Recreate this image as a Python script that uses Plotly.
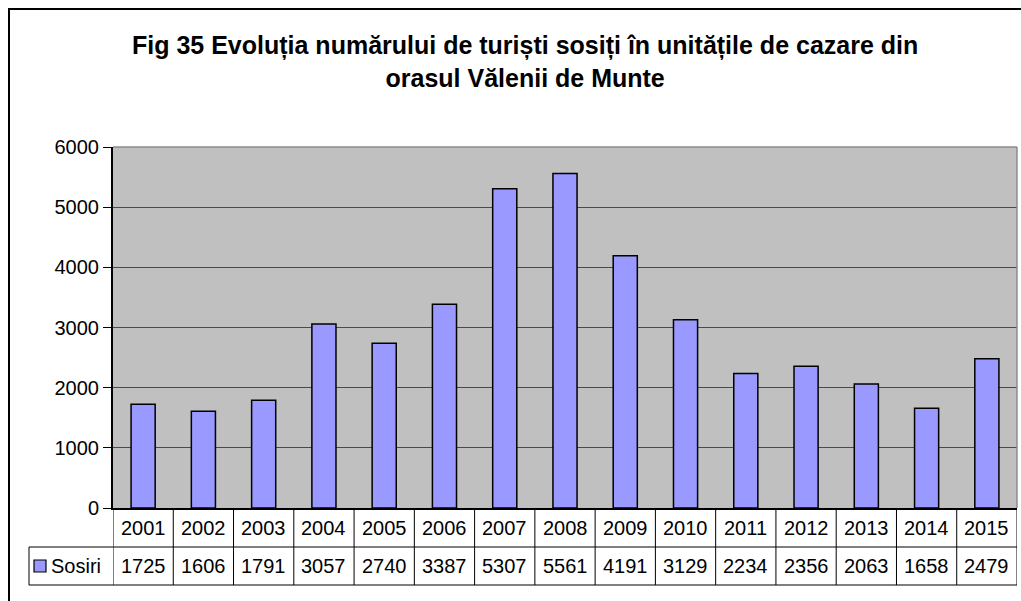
import plotly.graph_objects as go

years = ["2001", "2002", "2003", "2004", "2005", "2006", "2007", "2008",
         "2009", "2010", "2011", "2012", "2013", "2014", "2015"]
sosiri = [1725, 1606, 1791, 3057, 2740, 3387, 5307, 5561,
          4191, 3129, 2234, 2356, 2063, 1658, 2479]
series_name = "Sosiri"
title_lines = ["Fig 35 Evoluția numărului de turiști sosiți în unitățile de cazare din",
               "orasul Vălenii de Munte"]

W, H = 1021, 601
L, R, T, B = 113, 1017, 147, 508  # plot area in pixels
pw, ph = R - L, B - T

def px_x(x):
    return (x - L) / pw

def px_y(y):
    return (B - y) / ph

FONT = "Liberation Sans, Arial, sans-serif"
FS = 20

fig = go.Figure()
fig.add_trace(go.Bar(
    x=years, y=sosiri, name=series_name, width=0.4,
    marker=dict(color="#9999FF", line=dict(color="#000000", width=1.5)),
    showlegend=False,
))

shapes = []
# outer chart border
shapes.append(dict(type="rect", xref="paper", yref="paper",
                   x0=px_x(9), x1=px_x(1030), y0=px_y(610), y1=px_y(9),
                   line=dict(color="#000000", width=2), layer="below"))
# plot area top and right borders (grey)
shapes.append(dict(type="line", xref="paper", yref="paper", x0=0, x1=1, y0=1, y1=1,
                   line=dict(color="#8c8c8c", width=1.5)))
shapes.append(dict(type="line", xref="paper", yref="paper", x0=1, x1=1, y0=0, y1=1,
                   line=dict(color="#8c8c8c", width=1.5)))

row1 = px_y(547)
row2 = px_y(585)
left_leg = px_x(29)
for yv in (row1, row2):
    shapes.append(dict(type="line", xref="paper", yref="paper", x0=left_leg, x1=1, y0=yv, y1=yv,
                       line=dict(color="#000000", width=1)))
shapes.append(dict(type="line", xref="paper", yref="paper", x0=left_leg, x1=left_leg,
                   y0=row1, y1=row2, line=dict(color="#000000", width=1)))
for i in range(len(years) + 1):
    shapes.append(dict(type="line", xref="x", yref="paper", x0=i - 0.5, x1=i - 0.5,
                       y0=0, y1=row2, line=dict(color="#000000", width=1)))
# legend key square
shapes.append(dict(type="rect", xref="paper", yref="paper",
                   x0=px_x(34), x1=px_x(46), y0=px_y(572), y1=px_y(560),
                   fillcolor="#9999FF", line=dict(color="#000000", width=1.2)))

annotations = []
ymid1 = px_y(527.5)
ymid2 = px_y(566)
for i, (yr, v) in enumerate(zip(years, sosiri)):
    annotations.append(dict(x=i, y=ymid1, xref="x", yref="paper", text=yr, showarrow=False,
                            xanchor="center", yanchor="middle",
                            font=dict(family=FONT, size=FS, color="#000000")))
    annotations.append(dict(x=i, y=ymid2, xref="x", yref="paper", text=str(v), showarrow=False,
                            xanchor="center", yanchor="middle",
                            font=dict(family=FONT, size=FS, color="#000000")))
annotations.append(dict(x=px_x(49), y=ymid2, xref="paper", yref="paper", text=series_name,
                        showarrow=False, xanchor="left", yanchor="middle",
                        font=dict(family=FONT, size=FS, color="#000000")))
annotations.append(dict(x=px_x(525), y=px_y(61), xref="paper", yref="paper",
                        text="<br>".join("<b>" + s + "</b>" for s in title_lines),
                        showarrow=False, xanchor="center", yanchor="middle",
                        font=dict(family=FONT, size=25, color="#000000")))

fig.update_layout(
    width=W, height=H,
    margin=dict(l=L, r=W - R, t=T, b=H - B, pad=0),
    paper_bgcolor="#FFFFFF", plot_bgcolor="#C0C0C0",
    font=dict(family=FONT, size=FS, color="#000000"),
    shapes=shapes, annotations=annotations,
)
fig.update_xaxes(type="category", showticklabels=False, ticks="", showgrid=False,
                 showline=True, linecolor="#000000", linewidth=1.5,
                 range=[-0.5, len(years) - 0.5], fixedrange=True)
fig.update_yaxes(range=[0, 6000], tickvals=[0, 1000, 2000, 3000, 4000, 5000, 6000],
                 ticks="outside", ticklen=8, tickcolor="#000000", tickwidth=1,
                 showline=True, linecolor="#000000", linewidth=2,
                 showgrid=True, gridcolor="#4a4a4a", gridwidth=1.3,
                 zeroline=False, tickfont=dict(family=FONT, size=FS, color="#000000"))

fig.write_html("out.html", config={"displayModeBar": False},
               post_script="document.body.style.margin='0';document.body.style.overflow='hidden';")
